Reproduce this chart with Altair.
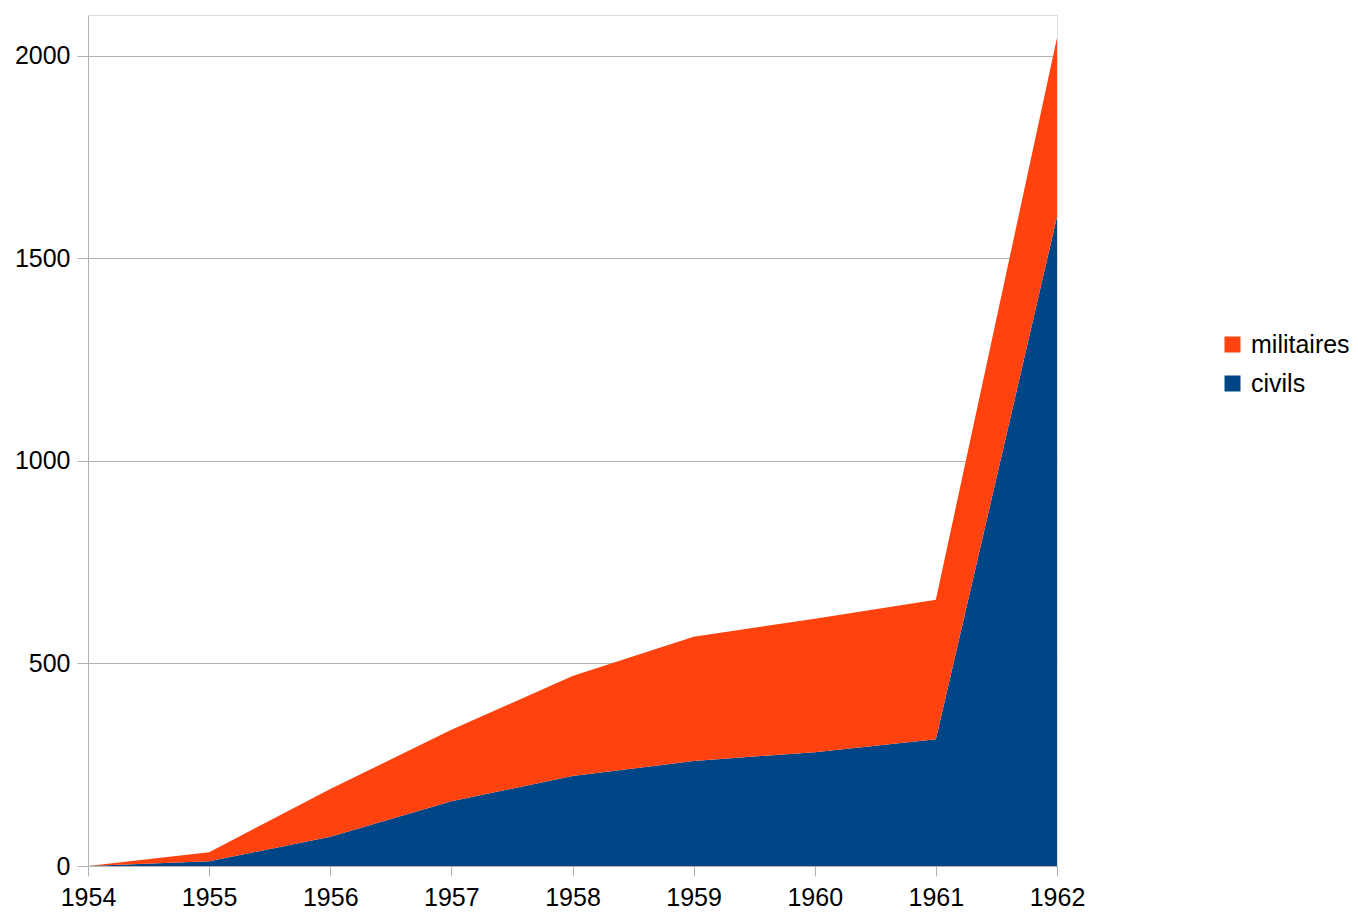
import altair as alt
import pandas as pd

years = [1954, 1955, 1956, 1957, 1958, 1959, 1960, 1961, 1962]
civils = [0, 12, 72, 160, 222, 259, 281, 313, 1602]
militaires = [0, 22, 118, 176, 247, 307, 329, 344, 442]

rows = []
for y, c, m in zip(years, civils, militaires):
    rows.append({"annee": y, "serie": "civils", "valeur": c, "ordre": 0})
    rows.append({"annee": y, "serie": "militaires", "valeur": m, "ordre": 1})
df = pd.DataFrame(rows)

font = "Liberation Sans"

chart = alt.Chart(df).mark_area(interpolate="linear", strokeWidth=0).encode(
    x=alt.X("annee:Q", title=None,
            scale=alt.Scale(domain=[1954, 1962], nice=False, zero=False),
            axis=alt.Axis(values=years, format="d", grid=False, tickSize=10,
                          tickColor="#b3b3b3", domainColor="#b3b3b3",
                          labelFontSize=25, labelFont=font, labelColor="#000000",
                          labelPadding=9, labelFlush=False)),
    y=alt.Y("valeur:Q", title=None, stack="zero",
            scale=alt.Scale(domain=[0, 2100], nice=False),
            axis=alt.Axis(values=[0, 500, 1000, 1500, 2000], format="d", grid=True,
                          gridColor="#b3b3b3", tickSize=11, tickColor="#b3b3b3",
                          domainColor="#b3b3b3", labelFontSize=25, labelFont=font,
                          labelColor="#000000", labelPadding=7)),
    color=alt.Color("serie:N", title=None,
                    scale=alt.Scale(domain=["militaires", "civils"],
                                    range=["#ff420e", "#004586"]),
                    legend=alt.Legend(orient="none", legendX=1132, legendY=317,
                                      padding=0, symbolType="square", symbolSize=256,
                                      symbolStrokeWidth=0, labelFontSize=25,
                                      labelFont=font, labelColor="#000000",
                                      rowPadding=13, labelOffset=6)),
    order=alt.Order("ordre:Q", sort="ascending"),
).properties(
    width=969, height=851,
    autosize=alt.AutoSizeParams(type="none"),
    padding={"left": 80, "top": 7, "right": 292, "bottom": 45},
).configure_view(stroke="#b3b3b3", strokeWidth=1).configure(background="white")

chart.save("out.html", embed_options={"renderer": "svg", "actions": False})
